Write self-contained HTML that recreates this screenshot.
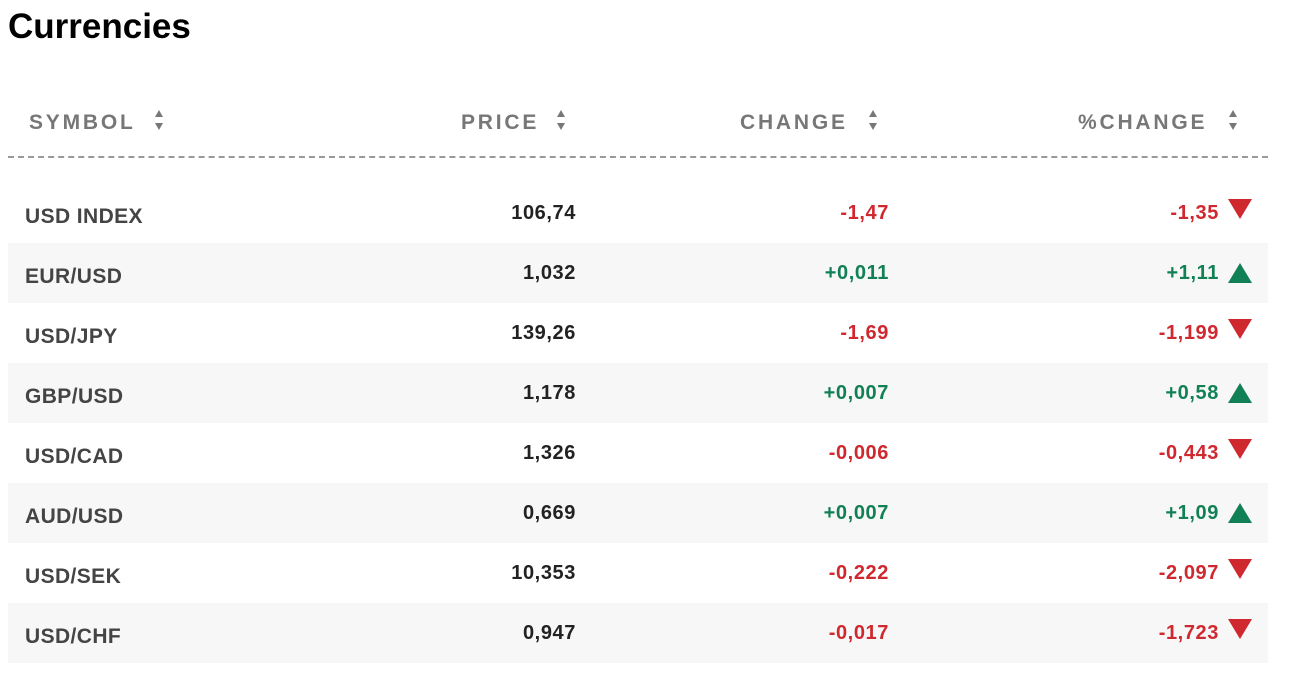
<!DOCTYPE html>
<html><head><style>
body{margin:0;width:1290px;height:688px;background:#fff;font-family:"Liberation Sans",sans-serif;position:relative;overflow:hidden}
.t{position:absolute;left:8px;top:7px;font-size:35px;font-weight:bold;color:#000;letter-spacing:0px}
.h{position:absolute;top:110px;font-size:21px;font-weight:bold;color:#777;letter-spacing:2.8px;line-height:26px}
.ar{position:absolute;top:108px;width:10px;height:26px}
.dash{position:absolute;left:8px;top:156px;width:1260px;height:0;border-top:2px dashed #999}
.r{position:absolute;left:8px;width:1260px;height:60px}
.g{background:#f7f7f7}
.c{position:absolute;font-size:20px;font-weight:bold;line-height:24px;letter-spacing:0.6px}
.s{left:17px;color:#444;top:22px;font-size:21px;letter-spacing:0.4px}
.p{right:692px;color:#222;top:18px}
.ch{right:379px;top:18px}
.pc{right:49px;top:18px}
.red{color:#d0282f}.grn{color:#128055}
.tri{position:absolute;left:1220px;width:0;height:0;border-left:12px solid transparent;border-right:12px solid transparent}
.dn{top:16px;border-top:20px solid #d0282f}
.up{top:20px;border-bottom:20px solid #128055}
</style></head><body>
<div class="t">Currencies</div>
<div class="h" style="left:29px">SYMBOL</div>
<svg class="ar" style="left:154px" viewBox="0 0 10 26"><polygon points="5,2 9,9 1,9" fill="#777"/><polygon points="5,22 9,15 1,15" fill="#777"/></svg>
<div class="h" style="left:461px">PRICE</div>
<svg class="ar" style="left:556px" viewBox="0 0 10 26"><polygon points="5,2 9,9 1,9" fill="#777"/><polygon points="5,22 9,15 1,15" fill="#777"/></svg>
<div class="h" style="left:740px">CHANGE</div>
<svg class="ar" style="left:868px" viewBox="0 0 10 26"><polygon points="5,2 9,9 1,9" fill="#777"/><polygon points="5,22 9,15 1,15" fill="#777"/></svg>
<div class="h" style="left:1078px">%CHANGE</div>
<svg class="ar" style="left:1228px" viewBox="0 0 10 26"><polygon points="5,2 9,9 1,9" fill="#777"/><polygon points="5,22 9,15 1,15" fill="#777"/></svg>
<div class="dash"></div>

<div class="r" style="top:183px"><div class="c s">USD INDEX</div><div class="c p">106,74</div><div class="c ch red">-1,47</div><div class="c pc red">-1,35</div><div class="tri dn"></div></div>
<div class="r g" style="top:243px"><div class="c s">EUR/USD</div><div class="c p">1,032</div><div class="c ch grn">+0,011</div><div class="c pc grn">+1,11</div><div class="tri up"></div></div>
<div class="r" style="top:303px"><div class="c s">USD/JPY</div><div class="c p">139,26</div><div class="c ch red">-1,69</div><div class="c pc red">-1,199</div><div class="tri dn"></div></div>
<div class="r g" style="top:363px"><div class="c s">GBP/USD</div><div class="c p">1,178</div><div class="c ch grn">+0,007</div><div class="c pc grn">+0,58</div><div class="tri up"></div></div>
<div class="r" style="top:423px"><div class="c s">USD/CAD</div><div class="c p">1,326</div><div class="c ch red">-0,006</div><div class="c pc red">-0,443</div><div class="tri dn"></div></div>
<div class="r g" style="top:483px"><div class="c s">AUD/USD</div><div class="c p">0,669</div><div class="c ch grn">+0,007</div><div class="c pc grn">+1,09</div><div class="tri up"></div></div>
<div class="r" style="top:543px"><div class="c s">USD/SEK</div><div class="c p">10,353</div><div class="c ch red">-0,222</div><div class="c pc red">-2,097</div><div class="tri dn"></div></div>
<div class="r g" style="top:603px"><div class="c s">USD/CHF</div><div class="c p">0,947</div><div class="c ch red">-0,017</div><div class="c pc red">-1,723</div><div class="tri dn"></div></div>
</body></html>
